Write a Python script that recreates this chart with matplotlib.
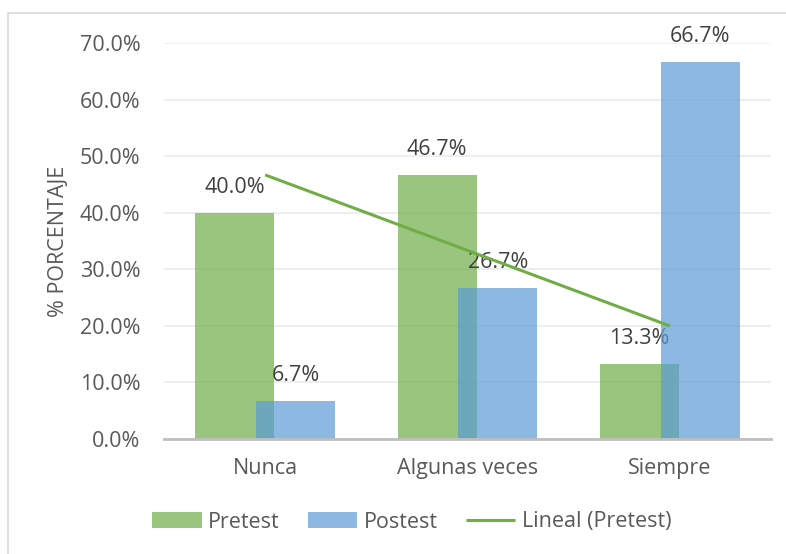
import matplotlib.pyplot as plt
import matplotlib.patches as mpatches
import numpy as np

plt.rcParams['font.family'] = ['Open Sans', 'DejaVu Sans']

categorias = ['Nunca', 'Algunas veces', 'Siempre']
pretest = [40.0, 46.7, 13.3]
postest = [6.7, 26.7, 66.7]

verde = '#70AD47'
azul = '#5B9BD5'
gris = '#595959'
fs = 15.5

fig = plt.figure(figsize=(7.86, 5.54), dpi=100)
ax = fig.add_axes([164 / 786, 1 - 439 / 554, 607 / 786, 396 / 554])

# marco del grafico
fig.patches.append(mpatches.Rectangle((8 / 786, -0.1), 1.2, 1 - 13 / 554 + 0.1,
                                      transform=fig.transFigure, fill=False,
                                      edgecolor='#D9D9D9', linewidth=1.2))

x = np.arange(len(categorias))
ancho = 0.39
desp = 0.15

b1 = ax.bar(x - desp, np.array(pretest) / 100, ancho, color=verde, alpha=0.7,
            label='Pretest', zorder=2)
for xi, v in zip(x - desp, pretest):
    ax.text(xi, v / 100 + 0.026, f'{v:.1f}%', ha='center', va='bottom',
            fontsize=fs, color='#404040', zorder=3, clip_on=False)

b2 = ax.bar(x + desp, np.array(postest) / 100, ancho, color=azul, alpha=0.7,
            label='Postest', zorder=4)
for xi, v in zip(x + desp, postest):
    ax.text(xi, v / 100 + 0.026, f'{v:.1f}%', ha='center', va='bottom',
            fontsize=fs, color='#404040', zorder=5, clip_on=False)

# linea de tendencia lineal del pretest
m, c = np.polyfit(x, np.array(pretest) / 100, 1)
ax.plot(x, m * x + c, color=verde, linewidth=2.2, label='Lineal (Pretest)',
        zorder=6, solid_capstyle='butt')

ax.set_xlim(-0.5, 2.5)
ax.set_ylim(0, 0.7)
ax.set_yticks(np.arange(0, 0.71, 0.1))
ax.set_yticklabels([f'{t * 100:.1f}%' for t in np.arange(0, 0.71, 0.1)])
ax.set_xticks(x)
ax.set_xticklabels(categorias)
ax.tick_params(axis='both', length=0, labelsize=fs, colors=gris)
ax.tick_params(axis='x', pad=14)
ax.tick_params(axis='y', pad=17)
ax.yaxis.grid(True, color='#EBEBEB', linewidth=1.2, zorder=0)
ax.set_axisbelow(True)
for s in ['top', 'right', 'left']:
    ax.spines[s].set_visible(False)
ax.spines['bottom'].set_color('#BFBFBF')
ax.spines['bottom'].set_linewidth(2)
ax.spines['bottom'].set_zorder(7)

ax.set_ylabel('% PORCENTAJE', fontsize=fs, color=gris, labelpad=8)

fig.legend(handles=[b1, b2, ax.lines[0]], loc='center', bbox_to_anchor=(0.524, 1 - 522 / 554),
           ncol=3, frameon=False, fontsize=fs, labelcolor=gris, handlelength=2.3,
           handleheight=0.75, columnspacing=1.3, handletextpad=0.3)

fig.savefig('out.png', dpi=100)
